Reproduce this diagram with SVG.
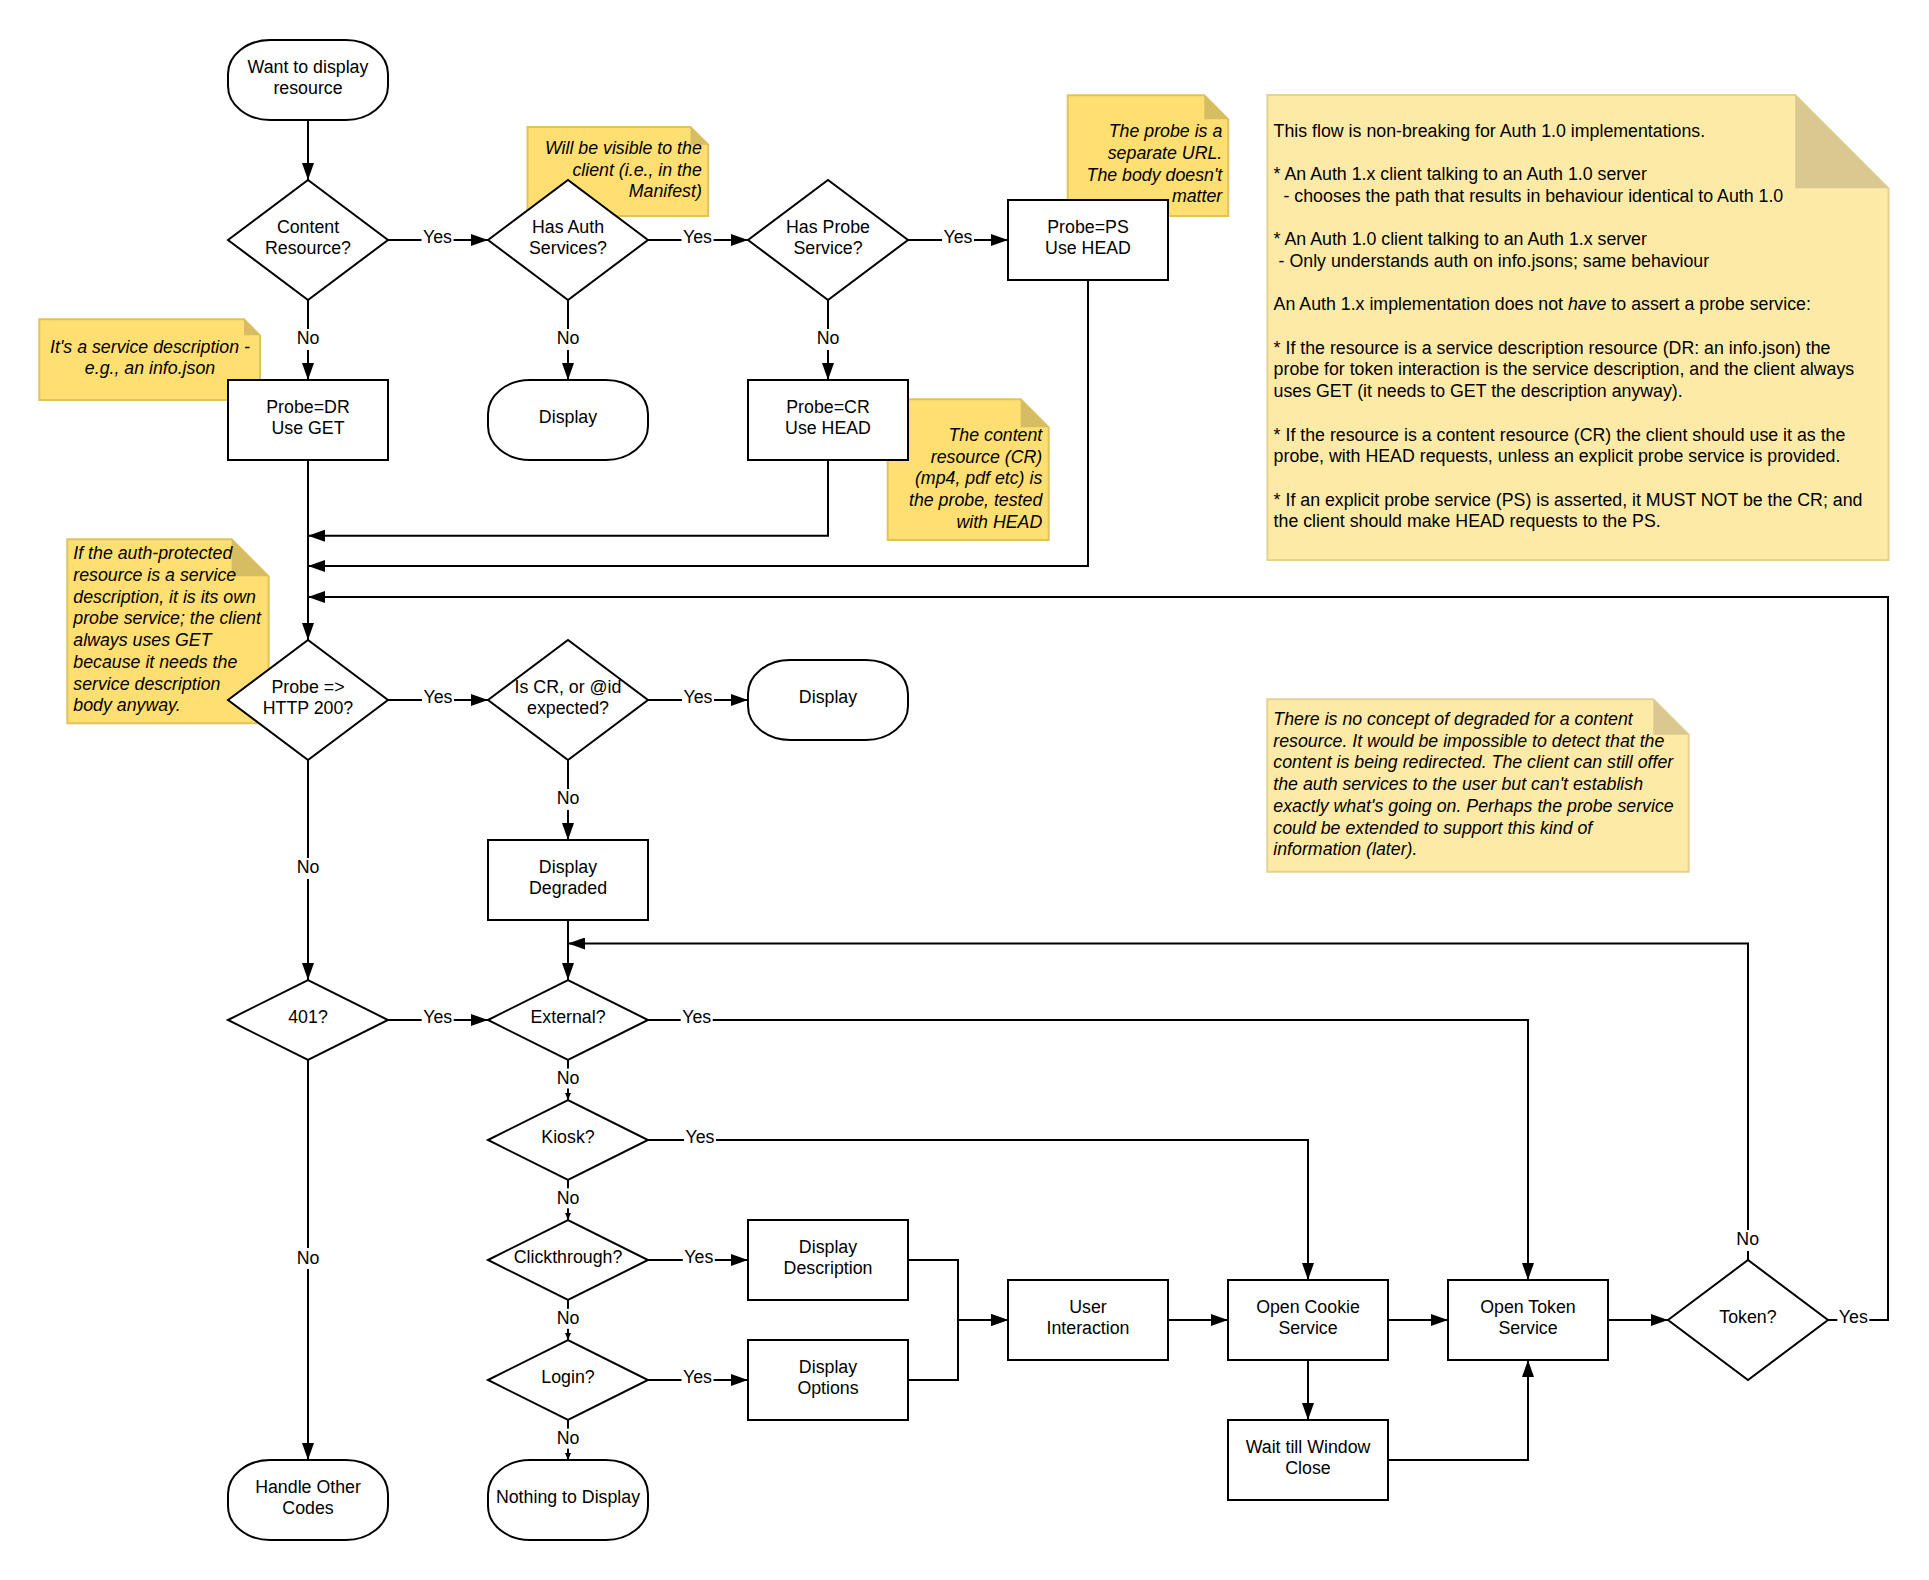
<svg xmlns="http://www.w3.org/2000/svg" width="1929" height="1580" viewBox="0 0 1929 1580">
<style>
.node{fill:#fff;stroke:#000;stroke-width:2}
.t{font-family:"Liberation Sans",Arial,sans-serif;font-size:17.78px;fill:#000;text-anchor:middle}
.conn{fill:none;stroke:#000;stroke-width:2}
.ar{marker-end:url(#arr)}
.ars{marker-end:url(#arrs)}
.lb rect{fill:#fff;stroke:none}
.na{fill:#FFDF71;stroke:#E0C35E;stroke-width:2}
.fa{fill:#D6BD62;stroke:none}
.nb{fill:#FEEAA7;stroke:#E5D290;stroke-width:2}
.fb{fill:#D9C88F;stroke:none}
.it{font-family:"Liberation Sans",Arial,sans-serif;font-size:17.78px;font-style:italic;fill:#000}
.bt{font-family:"Liberation Sans",Arial,sans-serif;font-size:17.78px;fill:#000}
.r{text-anchor:end}
.c{text-anchor:middle}
</style>
<defs>
<marker id="arr" markerWidth="17" markerHeight="12" refX="17" refY="6" orient="auto" markerUnits="userSpaceOnUse"><path d="M0,0 L17,6 L0,12 z" fill="#000"/></marker>
<marker id="arrs" markerWidth="7" markerHeight="6" refX="7" refY="3" orient="auto" markerUnits="userSpaceOnUse"><path d="M0,0 L7,3 L0,6 z" fill="#000"/></marker>
</defs>
<rect width="1929" height="1580" fill="#fff"/>

<g id="notes">
<g id="note-visible">
<path class="na" d="M527.5,127 H690.5 L708.2,144.7 V216 H527.5 Z"/><path class="fa" d="M690.5,127 V144.7 H708.2 Z"/>
<text class="it r" x="701.8" y="154">Will be visible to the</text>
<text class="it r" x="701.8" y="175.7">client (i.e., in the</text>
<text class="it r" x="701.8" y="197.4">Manifest)</text>
</g>
<g id="note-ps">
<path class="na" d="M1067.7,95.3 H1204.3 L1228.3,119.3 V216 H1067.7 Z"/><path class="fa" d="M1204.3,95.3 V119.3 H1228.3 Z"/>
<text class="it r" x="1222.3" y="137.3">The probe is a</text>
<text class="it r" x="1222.3" y="159">separate URL.</text>
<text class="it r" x="1222.3" y="180.7">The body doesn't</text>
<text class="it r" x="1222.3" y="202.4">matter</text>
</g>
<g id="note-cr">
<path class="na" d="M887.7,399.3 H1020.7 L1048.7,427.3 V540 H887.7 Z"/><path class="fa" d="M1020.7,399.3 V427.3 H1048.7 Z"/>
<text class="it r" x="1042.3" y="441">The content</text>
<text class="it r" x="1042.3" y="462.7">resource (CR)</text>
<text class="it r" x="1042.3" y="484.4">(mp4, pdf etc) is</text>
<text class="it r" x="1042.3" y="506.1">the probe, tested</text>
<text class="it r" x="1042.3" y="527.8">with HEAD</text>
</g>
<g id="note-sd">
<path class="na" d="M39.3,319.3 H244 L260,335.3 V400 H39.3 Z"/><path class="fa" d="M244,319.3 V335.3 H260 Z"/>
<text class="it c" x="150" y="352.7">It's a service description -</text>
<text class="it c" x="150" y="374.4">e.g., an info.json</text>
</g>
<g id="note-auth">
<path class="na" d="M67.3,539.3 H231.7 L268.7,576.3 V723.3 H67.3 Z"/><path class="fa" d="M231.7,539.3 V576.3 H268.7 Z"/>
<text class="it" x="73.3" y="559.3">If the auth-protected</text>
<text class="it" x="73.3" y="581">resource is a service</text>
<text class="it" x="73.3" y="602.7">description, it is its own</text>
<text class="it" x="73.3" y="624.4">probe service; the client</text>
<text class="it" x="73.3" y="646.1">always uses GET</text>
<text class="it" x="73.3" y="667.8">because it needs the</text>
<text class="it" x="73.3" y="689.5">service description</text>
<text class="it" x="73.3" y="711.2">body anyway.</text>
</g>
<g id="note-compat">
<path class="nb" d="M1267.4,95 H1795.2 L1888.5,188.3 V560 H1267.4 Z"/><path class="fb" d="M1795.2,95 V188.3 H1888.5 Z"/>
<text class="bt" x="1273.6" y="136.7">This flow is non-breaking for Auth 1.0 implementations.</text>
<text class="bt" x="1273.6" y="180.1">* An Auth 1.x client talking to an Auth 1.0 server</text>
<text class="bt" x="1283.5" y="201.8">- chooses the path that results in behaviour identical to Auth 1.0</text>
<text class="bt" x="1273.6" y="245.2">* An Auth 1.0 client talking to an Auth 1.x server</text>
<text class="bt" x="1278.6" y="266.9">- Only understands auth on info.jsons; same behaviour</text>
<text class="bt" x="1273.6" y="310.3">An Auth 1.x implementation does not <tspan font-style="italic">have</tspan> to assert a probe service:</text>
<text class="bt" x="1273.6" y="353.7">* If the resource is a service description resource (DR: an info.json) the</text>
<text class="bt" x="1273.6" y="375.4">probe for token interaction is the service description, and the client always</text>
<text class="bt" x="1273.6" y="397.1">uses GET (it needs to GET the description anyway).</text>
<text class="bt" x="1273.6" y="440.5">* If the resource is a content resource (CR) the client should use it as the</text>
<text class="bt" x="1273.6" y="462.2">probe, with HEAD requests, unless an explicit probe service is provided.</text>
<text class="bt" x="1273.6" y="505.6">* If an explicit probe service (PS) is asserted, it MUST NOT be the CR; and</text>
<text class="bt" x="1273.6" y="527.3">the client should make HEAD requests to the PS.</text>
</g>
<g id="note-degraded">
<path class="nb" d="M1267.3,699.3 H1653.3 L1688.7,734.7 V871.7 H1267.3 Z"/><path class="fb" d="M1653.3,699.3 V734.7 H1688.7 Z"/>
<text class="it" x="1273.3" y="725">There is no concept of degraded for a content</text>
<text class="it" x="1273.3" y="746.7">resource. It would be impossible to detect that the</text>
<text class="it" x="1273.3" y="768.4">content is being redirected. The client can still offer</text>
<text class="it" x="1273.3" y="790.1">the auth services to the user but can't establish</text>
<text class="it" x="1273.3" y="811.8">exactly what's going on. Perhaps the probe service</text>
<text class="it" x="1273.3" y="833.5">could be extended to support this kind of</text>
<text class="it" x="1273.3" y="855.2">information (later).</text>
</g>
</g>

<g id="connectors">
<path class="conn ar" d="M308,120 V180"/>
<path class="conn ar" d="M388,240 H488"/>
<path class="conn ar" d="M648,240 H748"/>
<path class="conn ar" d="M908,240 H1008"/>
<path class="conn ar" d="M308,300 V380"/>
<path class="conn ar" d="M568,300 V380"/>
<path class="conn ar" d="M828,300 V380"/>
<path class="conn ar" d="M308,460 V640"/>
<path class="conn ar" d="M828,460 V535.7 H308"/>
<path class="conn ar" d="M1088,280 V566 H308"/>
<path class="conn ar" d="M1828,1320 H1888 V597 H308"/>
<path class="conn ar" d="M388,700 H488"/>
<path class="conn ar" d="M648,700 H748"/>
<path class="conn ar" d="M568,760 V840"/>
<path class="conn ar" d="M308,760 V980"/>
<path class="conn ar" d="M568,920 V980"/>
<path class="conn ar" d="M1748,1260 V943.5 H568"/>
<path class="conn ar" d="M388,1020 H488"/>
<path class="conn ar" d="M308,1060 V1460"/>
<path class="conn ar" d="M648,1020 H1528 V1280"/>
<path class="conn ars" d="M568,1060 V1100"/>
<path class="conn ar" d="M648,1140 H1308 V1280"/>
<path class="conn ars" d="M568,1180 V1220"/>
<path class="conn ar" d="M648,1260 H748"/>
<path class="conn ars" d="M568,1300 V1340"/>
<path class="conn ar" d="M648,1380 H748"/>
<path class="conn ars" d="M568,1420 V1460"/>
<path class="conn ar" d="M908,1260 H958 V1320 H1008"/>
<path class="conn ar" d="M908,1380 H958 V1320 H1008"/>
<path class="conn ar" d="M1168,1320 H1228"/>
<path class="conn ar" d="M1388,1320 H1448"/>
<path class="conn ar" d="M1308,1360 V1420"/>
<path class="conn ar" d="M1388,1460 H1528 V1360"/>
<path class="conn ar" d="M1608,1320 H1668"/>
<g class="lb">
<rect x="421.5" y="228" width="32" height="18"/><text class="t" x="437.5" y="243.3">Yes</text>
<rect x="681.5" y="228" width="32" height="18"/><text class="t" x="697.5" y="243.3">Yes</text>
<rect x="942" y="228" width="32" height="18"/><text class="t" x="958" y="243.3">Yes</text>
<rect x="296" y="329" width="24" height="21"/><text class="t" x="308" y="344.3">No</text>
<rect x="556" y="329" width="24" height="21"/><text class="t" x="568" y="344.3">No</text>
<rect x="816" y="329" width="24" height="21"/><text class="t" x="828" y="344.3">No</text>
<rect x="422" y="688" width="32" height="18"/><text class="t" x="438" y="703.3">Yes</text>
<rect x="682" y="688" width="32" height="18"/><text class="t" x="698" y="703.3">Yes</text>
<rect x="556" y="789" width="24" height="21"/><text class="t" x="568" y="804.3">No</text>
<rect x="296" y="858" width="24" height="21"/><text class="t" x="308" y="873.3">No</text>
<rect x="421.7" y="1008" width="32" height="18"/><text class="t" x="437.7" y="1023.3">Yes</text>
<rect x="296" y="1248" width="24" height="21"/><text class="t" x="308" y="1263.5">No</text>
<rect x="680.7" y="1008" width="32" height="18"/><text class="t" x="696.7" y="1023.3">Yes</text>
<rect x="556" y="1068.5" width="24" height="20"/><text class="t" x="568" y="1083.8">No</text>
<rect x="684" y="1128" width="32" height="18"/><text class="t" x="700" y="1143.3">Yes</text>
<rect x="556" y="1188.3" width="24" height="20"/><text class="t" x="568" y="1203.6">No</text>
<rect x="682.8" y="1248" width="32" height="18"/><text class="t" x="698.8" y="1263.3">Yes</text>
<rect x="556" y="1308.8" width="24" height="20"/><text class="t" x="568" y="1324.1">No</text>
<rect x="681.5" y="1368" width="32" height="18"/><text class="t" x="697.5" y="1383.3">Yes</text>
<rect x="556" y="1428.6" width="24" height="20"/><text class="t" x="568" y="1443.9">No</text>
<rect x="1735.7" y="1230" width="24" height="21"/><text class="t" x="1747.7" y="1245.3">No</text>
<rect x="1837.3" y="1308" width="32" height="18"/><text class="t" x="1853.3" y="1323.3">Yes</text>
</g>
</g>

<g id="nodes">
<g id="n-start"><rect class="node" x="228" y="40" width="160" height="80" rx="42" ry="34"/><text class="t" x="308" y="72.6">Want to display</text><text class="t" x="308" y="94.3">resource</text></g>
<g id="n-content"><polygon class="node" points="228,240 308,180 388,240 308,300"/><text class="t" x="308" y="232.6">Content</text><text class="t" x="308" y="254.3">Resource?</text></g>
<g id="n-hasauth"><polygon class="node" points="488,240 568,180 648,240 568,300"/><text class="t" x="568" y="232.6">Has Auth</text><text class="t" x="568" y="254.3">Services?</text></g>
<g id="n-hasprobe"><polygon class="node" points="748,240 828,180 908,240 828,300"/><text class="t" x="828" y="232.6">Has Probe</text><text class="t" x="828" y="254.3">Service?</text></g>
<g id="n-ps"><rect class="node" x="1008" y="200" width="160" height="80"/><text class="t" x="1088" y="232.6">Probe=PS</text><text class="t" x="1088" y="254.3">Use HEAD</text></g>
<g id="n-dr"><rect class="node" x="228" y="380" width="160" height="80"/><text class="t" x="308" y="412.6">Probe=DR</text><text class="t" x="308" y="434.3">Use GET</text></g>
<g id="n-display1"><rect class="node" x="488" y="380" width="160" height="80" rx="42" ry="34"/><text class="t" x="568" y="423.4">Display</text></g>
<g id="n-cr"><rect class="node" x="748" y="380" width="160" height="80"/><text class="t" x="828" y="412.6">Probe=CR</text><text class="t" x="828" y="434.3">Use HEAD</text></g>
<g id="n-http200"><polygon class="node" points="228,700 308,640 388,700 308,760"/><text class="t" x="308" y="692.6">Probe =&gt;</text><text class="t" x="308" y="714.3">HTTP 200?</text></g>
<g id="n-iscr"><polygon class="node" points="488,700 568,640 648,700 568,760"/><text class="t" x="568" y="692.6">Is CR, or @id</text><text class="t" x="568" y="714.3">expected?</text></g>
<g id="n-display2"><rect class="node" x="748" y="660" width="160" height="80" rx="42" ry="34"/><text class="t" x="828" y="703.4">Display</text></g>
<g id="n-degraded"><rect class="node" x="488" y="840" width="160" height="80"/><text class="t" x="568" y="872.6">Display</text><text class="t" x="568" y="894.3">Degraded</text></g>
<g id="n-401"><polygon class="node" points="228,1020 308,980 388,1020 308,1060"/><text class="t" x="308" y="1023.4">401?</text></g>
<g id="n-external"><polygon class="node" points="488,1020 568,980 648,1020 568,1060"/><text class="t" x="568" y="1023.4">External?</text></g>
<g id="n-kiosk"><polygon class="node" points="488,1140 568,1100 648,1140 568,1180"/><text class="t" x="568" y="1143.4">Kiosk?</text></g>
<g id="n-click"><polygon class="node" points="488,1260 568,1220 648,1260 568,1300"/><text class="t" x="568" y="1263.4">Clickthrough?</text></g>
<g id="n-login"><polygon class="node" points="488,1380 568,1340 648,1380 568,1420"/><text class="t" x="568" y="1383.4">Login?</text></g>
<g id="n-nothing"><rect class="node" x="488" y="1460" width="160" height="80" rx="42" ry="34"/><text class="t" x="568" y="1503.4">Nothing to Display</text></g>
<g id="n-handle"><rect class="node" x="228" y="1460" width="160" height="80" rx="42" ry="34"/><text class="t" x="308" y="1492.6">Handle Other</text><text class="t" x="308" y="1514.3">Codes</text></g>
<g id="n-desc"><rect class="node" x="748" y="1220" width="160" height="80"/><text class="t" x="828" y="1252.6">Display</text><text class="t" x="828" y="1274.3">Description</text></g>
<g id="n-options"><rect class="node" x="748" y="1340" width="160" height="80"/><text class="t" x="828" y="1372.6">Display</text><text class="t" x="828" y="1394.3">Options</text></g>
<g id="n-user"><rect class="node" x="1008" y="1280" width="160" height="80"/><text class="t" x="1088" y="1312.6">User</text><text class="t" x="1088" y="1334.3">Interaction</text></g>
<g id="n-cookie"><rect class="node" x="1228" y="1280" width="160" height="80"/><text class="t" x="1308" y="1312.6">Open Cookie</text><text class="t" x="1308" y="1334.3">Service</text></g>
<g id="n-tokensvc"><rect class="node" x="1448" y="1280" width="160" height="80"/><text class="t" x="1528" y="1312.6">Open Token</text><text class="t" x="1528" y="1334.3">Service</text></g>
<g id="n-wait"><rect class="node" x="1228" y="1420" width="160" height="80"/><text class="t" x="1308" y="1452.6">Wait till Window</text><text class="t" x="1308" y="1474.3">Close</text></g>
<g id="n-token"><polygon class="node" points="1668,1320 1748,1260 1828,1320 1748,1380"/><text class="t" x="1748" y="1323.4">Token?</text></g>
</g>
</svg>
